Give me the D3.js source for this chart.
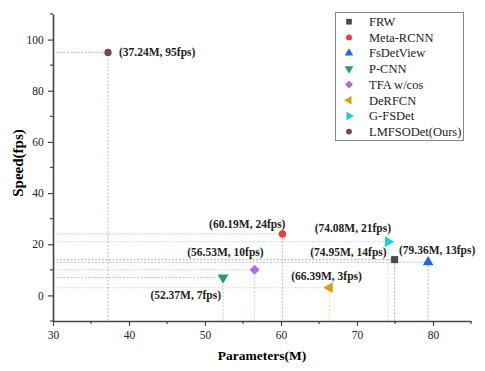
<!DOCTYPE html>
<html>
<head>
<meta charset="utf-8">
<script src="https://cdn.jsdelivr.net/npm/d3@7"></script>
<style>
  body { margin: 0; background: #fff; }
  svg text { font-family: "Liberation Serif", "Times New Roman", serif; }
</style>
</head>
<body>
<script>
// data
const methods = ["FRW", "Meta-RCNN", "FsDetView", "P-CNN", "TFA w/cos", "DeRFCN", "G-FSDet", "LMFSODet(Ours)"]
const params = [74.95, 60.19, 79.36, 52.37, 56.53, 66.39, 74.08, 37.24]
const speeds = [14, 24, 13, 7, 10, 3, 21, 95]
const xTicks = [30, 40, 50, 60, 70, 80]
const yTicks = [0, 20, 40, 60, 80, 100]

const colors = ["#4a4a4a", "#f23c3c", "#1c68e0", "#22a06b", "#b06ae6", "#d4a010", "#19cfd6", "#7a4848"]
const shapes = ["square", "circle", "up", "down", "diamond", "left", "right", "circle"]
// label offsets relative to the point: [dx, dy, anchor]
const labelPos = [[-8, -8, "end"], [3, -10, "end"], [9, -12, "middle"], [-2, 17, "end"],
                  [9, -18, "end"], [-3, -12, "middle"], [3, -14, "end"], [11, 0, "start"]]

const serif = '"Liberation Serif", "Times New Roman", serif'
const width = 485, height = 371
const marginLeft = 53, marginRight = 14, marginTop = 14, marginBottom = 50

const svg = d3.select("body").append("svg")
    .attr("width", width)
    .attr("height", height)
    .attr("font-family", serif)

const x = d3.scaleLinear().domain([30, 85]).range([marginLeft, width - marginRight])
const y = d3.scaleLinear().domain([-10, 110]).range([height - marginBottom, marginTop])

function symbolPath(shape, size) {
    if (shape === "circle") return d3.symbol(d3.symbolCircle, size * 0.85)()
    if (shape === "square" || shape === "diamond") return d3.symbol(d3.symbolSquare, size)()
    return d3.symbol(d3.symbolTriangle, size)()
}
function symbolRot(shape) {
    return { down: 180, left: -90, right: 90, diamond: 45 }[shape] || 0
}

// guide lines
const idx = d3.range(methods.length)
svg.append("g")
    .selectAll("line")
    .data(idx)
    .join("line")
    .attr("x1", x(30))
    .attr("x2", i => x(params[i]))
    .attr("y1", i => y(speeds[i]))
    .attr("y2", i => y(speeds[i]))
    .attr("stroke", i => colors[i])
    .attr("stroke-opacity", 0.45)
    .attr("stroke-width", 0.9)
    .attr("stroke-dasharray", "2,1.5")

svg.append("g")
    .selectAll("line")
    .data(idx)
    .join("line")
    .attr("x1", i => x(params[i]))
    .attr("x2", i => x(params[i]))
    .attr("y1", i => y(speeds[i]))
    .attr("y2", y(-10))
    .attr("stroke", i => colors[i])
    .attr("stroke-opacity", 0.45)
    .attr("stroke-width", 0.9)
    .attr("stroke-dasharray", "2,1.5")

// axes
const xAxis = d3.axisBottom(x).tickValues(xTicks).tickSize(5).tickSizeOuter(0)
const yAxis = d3.axisLeft(y).tickValues(yTicks).tickSize(5).tickSizeOuter(0)

const gx = svg.append("g")
    .attr("transform", `translate(0,${y(-10)})`)
    .call(xAxis)
    .attr("font-family", serif)
    .attr("font-size", 11.5)
gx.selectAll("line.minor")
    .data([35, 45, 55, 65, 75, 85])
    .join("line")
    .attr("x1", d => x(d)).attr("x2", d => x(d))
    .attr("y1", 0).attr("y2", 3)
    .attr("stroke", "#444").attr("stroke-width", 1.2)

const gy = svg.append("g")
    .attr("transform", `translate(${x(30)},0)`)
    .call(yAxis)
    .attr("font-family", serif)
    .attr("font-size", 11.5)
gy.selectAll("line.minor")
    .data([-10, 10, 30, 50, 70, 90, 110])
    .join("line")
    .attr("y1", d => y(d)).attr("y2", d => y(d))
    .attr("x1", 0).attr("x2", -3)
    .attr("stroke", "#444").attr("stroke-width", 1.2)

svg.selectAll(".domain").attr("stroke", "#444").attr("stroke-width", 1.6)
svg.selectAll(".tick line").attr("stroke", "#444").attr("stroke-width", 1.2)
svg.selectAll(".tick text").attr("fill", "#222")
gx.selectAll(".tick text").attr("dy", "0.9em")
gy.selectAll(".tick text").attr("dx", "-0.1em")

// axis titles
svg.append("text")
    .attr("x", 262)
    .attr("y", 360)
    .attr("text-anchor", "middle")
    .attr("font-size", 13.5)
    .attr("font-weight", "bold")
    .text("Parameters(M)")

svg.append("text")
    .attr("transform", "translate(23,163) rotate(-90)")
    .attr("text-anchor", "middle")
    .attr("font-size", 15)
    .attr("font-weight", "bold")
    .text("Speed(fps)")

// points
svg.append("g")
    .selectAll("path")
    .data(idx)
    .join("path")
    .attr("d", i => symbolPath(shapes[i], 50))
    .attr("transform", i => `translate(${x(params[i])},${y(speeds[i])}) rotate(${symbolRot(shapes[i])})`)
    .attr("fill", i => colors[i])

// point labels
svg.append("g")
    .selectAll("text")
    .data(idx)
    .join("text")
    .attr("x", i => x(params[i]) + labelPos[i][0])
    .attr("y", i => y(speeds[i]) + labelPos[i][1])
    .attr("dy", "0.35em")
    .attr("text-anchor", i => labelPos[i][2])
    .attr("font-size", 11.5)
    .attr("font-weight", "bold")
    .attr("fill", "#222")
    .text(i => `(${params[i]}M, ${speeds[i]}fps)`)

// legend
const legend = svg.append("g")
legend.append("rect")
    .attr("x", 335.5).attr("y", 12.5)
    .attr("width", 128).attr("height", 128)
    .attr("fill", "white")
    .attr("stroke", "#888")
    .attr("stroke-width", 1)

const rows = legend.selectAll("g")
    .data(idx)
    .join("g")
    .attr("transform", i => `translate(349,${21.7 + i * 15.7})`)
rows.append("path")
    .attr("d", i => symbolPath(shapes[i], 32))
    .attr("transform", i => `rotate(${symbolRot(shapes[i])})`)
    .attr("fill", i => colors[i])
rows.append("text")
    .attr("x", 20)
    .attr("dy", "0.35em")
    .attr("font-size", 12.5)
    .attr("fill", "#222")
    .text(i => methods[i])
</script>
</body>
</html>
